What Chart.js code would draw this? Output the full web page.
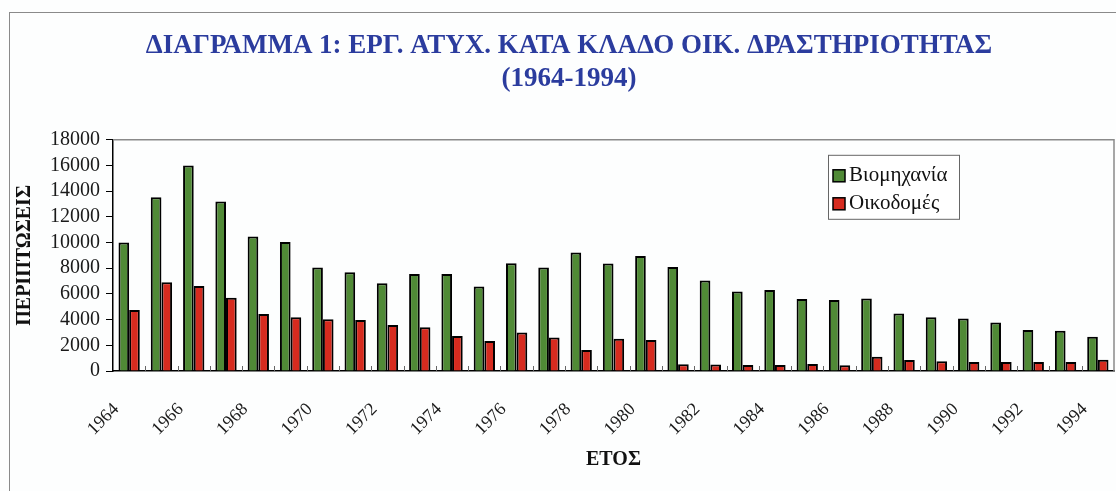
<!DOCTYPE html>
<html><head><meta charset="utf-8">
<script src="https://cdn.jsdelivr.net/npm/chart.js@4.4.1/dist/chart.umd.min.js"></script>
<style>
html,body{margin:0;padding:0;background:#fdfefe;overflow:hidden}
#frame{position:absolute;left:9px;top:12px;width:1200px;height:600px;border-left:1.5px solid #8a8a8a;border-top:1.5px solid #8a8a8a}
#wrap{position:absolute;left:0;top:0;width:1116px;height:491px}
</style></head><body>
<div id="frame"></div>
<div id="wrap"><canvas id="c" width="1116" height="491"></canvas></div>
<script>
const years = ['1964','1965','1966','1967','1968','1969','1970','1971','1972','1973','1974','1975','1976','1977','1978','1979','1980','1981','1982','1983','1984','1985','1986','1987','1988','1989','1990','1991','1992','1993','1994'];
const industry = [10000,13530,16000,13190,10470,10050,8050,7690,6830,7560,7560,6570,8390,8050,9220,8360,8960,8100,7040,6180,6310,5610,5530,5640,4470,4180,4080,3770,3190,3140,2670];
const construction = [4750,6910,6620,5710,4440,4180,4030,3970,3580,3400,2730,2340,2990,2600,1640,2520,2420,520,500,470,470,550,440,1110,860,750,700,700,700,700,880];
const shownYearLabels = ['1964','1966','1968','1970','1972','1974','1976','1978','1980','1982','1984','1986','1988','1990','1992','1994'];
const yTickValues = [0,2000,4000,6000,8000,10000,12000,14000,16000,18000];
const seriesNames = ['Βιομηχανία','Οικοδομές'];
const titleLines = ['ΔΙΑΓΡΑΜΜΑ 1: ΕΡΓ. ΑΤΥΧ. ΚΑΤΑ ΚΛΑΔΟ ΟΙΚ. ΔΡΑΣΤΗΡΙΟΤΗΤΑΣ','(1964-1994)'];
const yAxisTitle = 'ΠΕΡΙΠΤΩΣΕΙΣ';
const xAxisTitle = 'ΕΤΟΣ';

const SERIF = '"Liberation Serif", "Times New Roman", serif';

const plotFrame = {
  id: 'plotFrame',
  beforeDatasetsDraw(chart) {
    const {ctx, chartArea: a} = chart;
    ctx.save();
    ctx.strokeStyle = '#8a8a8a';
    ctx.lineWidth = 1.5;
    ctx.beginPath();
    ctx.moveTo(a.left, a.top);
    ctx.lineTo(a.right, a.top);
    ctx.lineTo(a.right, a.bottom);
    ctx.stroke();
    const xs = chart.scales.x;
    const n = years.length;
    ctx.strokeStyle = '#666';
    ctx.lineWidth = 1;
    ctx.beginPath();
    for (let i = 1; i < n; i++) {
      const x = Math.round(xs.left + i * (xs.width / n)) + 0.5;
      ctx.moveTo(x, a.bottom);
      ctx.lineTo(x, a.bottom - 5);
    }
    ctx.stroke();
    ctx.restore();
  }
};

const boxLegend = {
  id: 'boxLegend',
  afterDraw(chart) {
    const {ctx, chartArea} = chart;
    const bx = chartArea.right - 286, by = chartArea.top + 15, bw = 131, bh = 64;
    ctx.save();
    ctx.fillStyle = '#ffffff';
    ctx.fillRect(bx, by, bw, bh);
    ctx.strokeStyle = '#666';
    ctx.lineWidth = 1;
    ctx.strokeRect(bx + 0.5, by + 0.5, bw, bh);
    chart.data.datasets.forEach((ds, i) => {
      const sy = by + 15 + i * 28;
      ctx.fillStyle = ds.backgroundColor;
      ctx.fillRect(bx + 5, sy, 12, 12);
      ctx.strokeStyle = '#000';
      ctx.lineWidth = 1.5;
      ctx.strokeRect(bx + 5, sy, 12, 12);
      ctx.fillStyle = '#111';
      ctx.font = '21px ' + SERIF;
      ctx.textBaseline = 'middle';
      ctx.textAlign = 'left';
      ctx.fillText(ds.label, bx + 21, sy + 6);
    });
    ctx.restore();
  }
};

new Chart(document.getElementById('c'), {
  type: 'bar',
  data: {
    labels: years,
    datasets: [
      { label: seriesNames[0], data: industry, backgroundColor: '#508a36', borderColor: '#000', borderWidth: 2 },
      { label: seriesNames[1], data: construction, backgroundColor: '#d62b1f', borderColor: '#000', borderWidth: 2 }
    ]
  },
  options: {
    responsive: false,
    devicePixelRatio: 1,
    animation: false,
    layout: { padding: { left: 24, right: 2, top: 0, bottom: 0 } },
    datasets: { bar: { categoryPercentage: 0.66, barPercentage: 1.0 } },
    plugins: {
      legend: { display: false },
      tooltip: { enabled: false },
      title: {
        display: true,
        text: titleLines,
        color: '#2b3c9e',
        font: { family: SERIF, size: 27, weight: 'bold', lineHeight: 1.2 },
        padding: { top: 30, bottom: 45 }
      }
    },
    scales: {
      x: {
        afterFit(s) { s.height = 120; s.paddingLeft = 0; s.paddingRight = 0; },
        grid: { display: false },
        border: { display: true, color: '#000', width: 1.5 },
        ticks: {
          autoSkip: false,
          minRotation: 45,
          maxRotation: 45,
          padding: 20,
          labelOffset: -13,
          color: '#1a1a1a',
          font: { family: SERIF, size: 18 },
          callback(v, i) { const l = years[i]; return shownYearLabels.includes(l) ? l : ''; }
        },
        title: {
          display: true,
          text: xAxisTitle,
          color: '#111',
          font: { family: SERIF, size: 20, weight: 'bold' },
          padding: { top: 0, bottom: 19 }
        }
      },
      y: {
        min: 0,
        max: 18000,
        afterFit(s) { s.width = 89; },
        afterBuildTicks(s) { s.ticks = yTickValues.map(v => ({ value: v })); },
        grid: { drawOnChartArea: false, drawTicks: true, tickLength: 7, color: '#000', lineWidth: 1 },
        border: { display: true, color: '#000', width: 1.5 },
        ticks: {
          autoSkip: false,
          padding: 6,
          color: '#1a1a1a',
          font: { family: SERIF, size: 20 },
          callback(v) { return String(v); }
        },
        title: {
          display: true,
          text: yAxisTitle,
          color: '#111',
          font: { family: SERIF, size: 20, weight: 'bold' },
          padding: { top: -11, bottom: 0 }
        }
      }
    }
  },
  plugins: [plotFrame, boxLegend]
});
</script>
</body></html>
